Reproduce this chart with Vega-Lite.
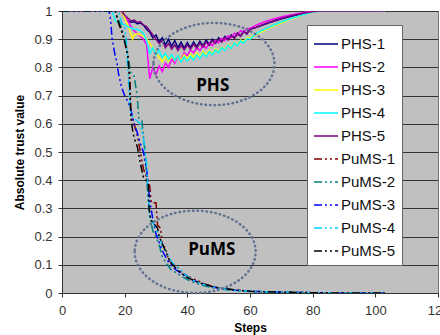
{
"$schema":"https://vega.github.io/schema/vega-lite/v6.json",
"width":376,"height":282,
"autosize":{"type":"none"},
"padding":{"left":62,"top":11,"right":2,"bottom":42},
"background":"white",
"config":{"view":{"fill":"#c0c0c0","stroke":"#777"},"font":"Liberation Sans"},
"datasets":{
"lines":[
{"s":"PHS-1","x":0,"y":1},{"s":"PHS-1","x":19,"y":1},{"s":"PHS-1","x":20,"y":0.975},{"s":"PHS-1","x":21,"y":0.965},{"s":"PHS-1","x":22,"y":0.96},{"s":"PHS-1","x":23,"y":0.962},{"s":"PHS-1","x":24,"y":0.955},{"s":"PHS-1","x":25,"y":0.957},{"s":"PHS-1","x":26,"y":0.95},{"s":"PHS-1","x":27,"y":0.935},{"s":"PHS-1","x":28,"y":0.925},{"s":"PHS-1","x":29,"y":0.905},{"s":"PHS-1","x":30,"y":0.915},{"s":"PHS-1","x":31,"y":0.89},{"s":"PHS-1","x":32,"y":0.905},{"s":"PHS-1","x":33,"y":0.88},{"s":"PHS-1","x":34,"y":0.9},{"s":"PHS-1","x":35,"y":0.875},{"s":"PHS-1","x":36,"y":0.895},{"s":"PHS-1","x":37,"y":0.87},{"s":"PHS-1","x":38,"y":0.89},{"s":"PHS-1","x":39,"y":0.868},{"s":"PHS-1","x":40,"y":0.888},{"s":"PHS-1","x":41,"y":0.87},{"s":"PHS-1","x":42,"y":0.89},{"s":"PHS-1","x":43,"y":0.873},{"s":"PHS-1","x":44,"y":0.893},{"s":"PHS-1","x":45,"y":0.877},{"s":"PHS-1","x":46,"y":0.897},{"s":"PHS-1","x":47,"y":0.882},{"s":"PHS-1","x":48,"y":0.9},{"s":"PHS-1","x":49,"y":0.888},{"s":"PHS-1","x":50,"y":0.905},{"s":"PHS-1","x":51,"y":0.893},{"s":"PHS-1","x":52,"y":0.91},{"s":"PHS-1","x":53,"y":0.9},{"s":"PHS-1","x":54,"y":0.915},{"s":"PHS-1","x":55,"y":0.905},{"s":"PHS-1","x":56,"y":0.922},{"s":"PHS-1","x":57,"y":0.912},{"s":"PHS-1","x":58,"y":0.928},{"s":"PHS-1","x":59,"y":0.92},{"s":"PHS-1","x":60,"y":0.935},{"s":"PHS-1","x":62,"y":0.942},{"s":"PHS-1","x":64,"y":0.95},{"s":"PHS-1","x":66,"y":0.958},{"s":"PHS-1","x":68,"y":0.965},{"s":"PHS-1","x":70,"y":0.972},{"s":"PHS-1","x":72,"y":0.978},{"s":"PHS-1","x":74,"y":0.983},{"s":"PHS-1","x":76,"y":0.988},{"s":"PHS-1","x":78,"y":0.993},{"s":"PHS-1","x":80,"y":0.997},{"s":"PHS-1","x":82,"y":1},{"s":"PHS-1","x":103,"y":1},
{"s":"PHS-2","x":0,"y":1},{"s":"PHS-2","x":19,"y":1},{"s":"PHS-2","x":20,"y":0.98},{"s":"PHS-2","x":21,"y":0.965},{"s":"PHS-2","x":22,"y":0.945},{"s":"PHS-2","x":23,"y":0.93},{"s":"PHS-2","x":24,"y":0.92},{"s":"PHS-2","x":25,"y":0.91},{"s":"PHS-2","x":26,"y":0.9},{"s":"PHS-2","x":27,"y":0.88},{"s":"PHS-2","x":28,"y":0.76},{"s":"PHS-2","x":29,"y":0.8},{"s":"PHS-2","x":30,"y":0.775},{"s":"PHS-2","x":31,"y":0.805},{"s":"PHS-2","x":32,"y":0.785},{"s":"PHS-2","x":33,"y":0.815},{"s":"PHS-2","x":34,"y":0.8},{"s":"PHS-2","x":35,"y":0.83},{"s":"PHS-2","x":36,"y":0.815},{"s":"PHS-2","x":37,"y":0.84},{"s":"PHS-2","x":38,"y":0.83},{"s":"PHS-2","x":39,"y":0.852},{"s":"PHS-2","x":40,"y":0.842},{"s":"PHS-2","x":41,"y":0.862},{"s":"PHS-2","x":42,"y":0.852},{"s":"PHS-2","x":43,"y":0.87},{"s":"PHS-2","x":44,"y":0.86},{"s":"PHS-2","x":45,"y":0.878},{"s":"PHS-2","x":46,"y":0.868},{"s":"PHS-2","x":47,"y":0.886},{"s":"PHS-2","x":48,"y":0.877},{"s":"PHS-2","x":49,"y":0.895},{"s":"PHS-2","x":50,"y":0.887},{"s":"PHS-2","x":51,"y":0.903},{"s":"PHS-2","x":52,"y":0.895},{"s":"PHS-2","x":53,"y":0.912},{"s":"PHS-2","x":54,"y":0.905},{"s":"PHS-2","x":55,"y":0.921},{"s":"PHS-2","x":56,"y":0.914},{"s":"PHS-2","x":57,"y":0.93},{"s":"PHS-2","x":58,"y":0.924},{"s":"PHS-2","x":59,"y":0.938},{"s":"PHS-2","x":60,"y":0.938},{"s":"PHS-2","x":62,"y":0.95},{"s":"PHS-2","x":64,"y":0.959},{"s":"PHS-2","x":66,"y":0.967},{"s":"PHS-2","x":68,"y":0.973},{"s":"PHS-2","x":70,"y":0.979},{"s":"PHS-2","x":72,"y":0.984},{"s":"PHS-2","x":74,"y":0.988},{"s":"PHS-2","x":76,"y":0.992},{"s":"PHS-2","x":78,"y":0.996},{"s":"PHS-2","x":80,"y":0.999},{"s":"PHS-2","x":82,"y":1},{"s":"PHS-2","x":103,"y":1},
{"s":"PHS-3","x":0,"y":1},{"s":"PHS-3","x":19,"y":1},{"s":"PHS-3","x":20,"y":0.975},{"s":"PHS-3","x":21,"y":0.95},{"s":"PHS-3","x":22,"y":0.92},{"s":"PHS-3","x":22.5,"y":0.9},{"s":"PHS-3","x":23,"y":0.915},{"s":"PHS-3","x":24,"y":0.92},{"s":"PHS-3","x":25,"y":0.915},{"s":"PHS-3","x":26,"y":0.91},{"s":"PHS-3","x":27,"y":0.9},{"s":"PHS-3","x":28,"y":0.885},{"s":"PHS-3","x":29,"y":0.87},{"s":"PHS-3","x":30,"y":0.85},{"s":"PHS-3","x":31,"y":0.835},{"s":"PHS-3","x":32,"y":0.82},{"s":"PHS-3","x":33,"y":0.84},{"s":"PHS-3","x":34,"y":0.822},{"s":"PHS-3","x":35,"y":0.84},{"s":"PHS-3","x":36,"y":0.824},{"s":"PHS-3","x":37,"y":0.842},{"s":"PHS-3","x":38,"y":0.827},{"s":"PHS-3","x":39,"y":0.845},{"s":"PHS-3","x":40,"y":0.83},{"s":"PHS-3","x":41,"y":0.848},{"s":"PHS-3","x":42,"y":0.834},{"s":"PHS-3","x":43,"y":0.852},{"s":"PHS-3","x":44,"y":0.838},{"s":"PHS-3","x":45,"y":0.856},{"s":"PHS-3","x":46,"y":0.843},{"s":"PHS-3","x":47,"y":0.86},{"s":"PHS-3","x":48,"y":0.848},{"s":"PHS-3","x":49,"y":0.866},{"s":"PHS-3","x":50,"y":0.855},{"s":"PHS-3","x":51,"y":0.872},{"s":"PHS-3","x":52,"y":0.862},{"s":"PHS-3","x":53,"y":0.88},{"s":"PHS-3","x":54,"y":0.87},{"s":"PHS-3","x":55,"y":0.887},{"s":"PHS-3","x":56,"y":0.88},{"s":"PHS-3","x":57,"y":0.897},{"s":"PHS-3","x":58,"y":0.89},{"s":"PHS-3","x":59,"y":0.906},{"s":"PHS-3","x":60,"y":0.905},{"s":"PHS-3","x":62,"y":0.917},{"s":"PHS-3","x":64,"y":0.928},{"s":"PHS-3","x":66,"y":0.939},{"s":"PHS-3","x":68,"y":0.949},{"s":"PHS-3","x":70,"y":0.958},{"s":"PHS-3","x":72,"y":0.967},{"s":"PHS-3","x":74,"y":0.975},{"s":"PHS-3","x":76,"y":0.983},{"s":"PHS-3","x":78,"y":0.99},{"s":"PHS-3","x":80,"y":0.996},{"s":"PHS-3","x":82,"y":1},{"s":"PHS-3","x":103,"y":1},
{"s":"PHS-4","x":0,"y":1},{"s":"PHS-4","x":16,"y":1},{"s":"PHS-4","x":17,"y":0.965},{"s":"PHS-4","x":18,"y":0.96},{"s":"PHS-4","x":19,"y":0.955},{"s":"PHS-4","x":20,"y":0.95},{"s":"PHS-4","x":21,"y":0.945},{"s":"PHS-4","x":22,"y":0.94},{"s":"PHS-4","x":23,"y":0.935},{"s":"PHS-4","x":24,"y":0.935},{"s":"PHS-4","x":25,"y":0.93},{"s":"PHS-4","x":26,"y":0.92},{"s":"PHS-4","x":27,"y":0.895},{"s":"PHS-4","x":28,"y":0.85},{"s":"PHS-4","x":29,"y":0.87},{"s":"PHS-4","x":30,"y":0.845},{"s":"PHS-4","x":31,"y":0.86},{"s":"PHS-4","x":32,"y":0.835},{"s":"PHS-4","x":33,"y":0.85},{"s":"PHS-4","x":34,"y":0.828},{"s":"PHS-4","x":35,"y":0.845},{"s":"PHS-4","x":36,"y":0.825},{"s":"PHS-4","x":37,"y":0.842},{"s":"PHS-4","x":38,"y":0.82},{"s":"PHS-4","x":39,"y":0.838},{"s":"PHS-4","x":40,"y":0.822},{"s":"PHS-4","x":41,"y":0.84},{"s":"PHS-4","x":42,"y":0.826},{"s":"PHS-4","x":43,"y":0.845},{"s":"PHS-4","x":44,"y":0.832},{"s":"PHS-4","x":45,"y":0.85},{"s":"PHS-4","x":46,"y":0.838},{"s":"PHS-4","x":47,"y":0.856},{"s":"PHS-4","x":48,"y":0.845},{"s":"PHS-4","x":49,"y":0.862},{"s":"PHS-4","x":50,"y":0.852},{"s":"PHS-4","x":51,"y":0.87},{"s":"PHS-4","x":52,"y":0.86},{"s":"PHS-4","x":53,"y":0.878},{"s":"PHS-4","x":54,"y":0.868},{"s":"PHS-4","x":55,"y":0.886},{"s":"PHS-4","x":56,"y":0.877},{"s":"PHS-4","x":57,"y":0.894},{"s":"PHS-4","x":58,"y":0.886},{"s":"PHS-4","x":59,"y":0.902},{"s":"PHS-4","x":60,"y":0.9},{"s":"PHS-4","x":62,"y":0.92},{"s":"PHS-4","x":64,"y":0.932},{"s":"PHS-4","x":66,"y":0.942},{"s":"PHS-4","x":68,"y":0.952},{"s":"PHS-4","x":70,"y":0.961},{"s":"PHS-4","x":72,"y":0.969},{"s":"PHS-4","x":74,"y":0.977},{"s":"PHS-4","x":76,"y":0.984},{"s":"PHS-4","x":78,"y":0.99},{"s":"PHS-4","x":80,"y":0.996},{"s":"PHS-4","x":82,"y":1},{"s":"PHS-4","x":103,"y":1},
{"s":"PHS-5","x":0,"y":1},{"s":"PHS-5","x":19,"y":1},{"s":"PHS-5","x":20,"y":0.985},{"s":"PHS-5","x":21,"y":0.975},{"s":"PHS-5","x":22,"y":0.965},{"s":"PHS-5","x":23,"y":0.968},{"s":"PHS-5","x":24,"y":0.96},{"s":"PHS-5","x":25,"y":0.962},{"s":"PHS-5","x":26,"y":0.95},{"s":"PHS-5","x":27,"y":0.945},{"s":"PHS-5","x":28,"y":0.93},{"s":"PHS-5","x":29,"y":0.915},{"s":"PHS-5","x":30,"y":0.9},{"s":"PHS-5","x":31,"y":0.885},{"s":"PHS-5","x":32,"y":0.895},{"s":"PHS-5","x":33,"y":0.87},{"s":"PHS-5","x":34,"y":0.885},{"s":"PHS-5","x":35,"y":0.865},{"s":"PHS-5","x":36,"y":0.88},{"s":"PHS-5","x":37,"y":0.86},{"s":"PHS-5","x":38,"y":0.878},{"s":"PHS-5","x":39,"y":0.862},{"s":"PHS-5","x":40,"y":0.88},{"s":"PHS-5","x":41,"y":0.865},{"s":"PHS-5","x":42,"y":0.882},{"s":"PHS-5","x":43,"y":0.868},{"s":"PHS-5","x":44,"y":0.886},{"s":"PHS-5","x":45,"y":0.872},{"s":"PHS-5","x":46,"y":0.89},{"s":"PHS-5","x":47,"y":0.878},{"s":"PHS-5","x":48,"y":0.895},{"s":"PHS-5","x":49,"y":0.885},{"s":"PHS-5","x":50,"y":0.9},{"s":"PHS-5","x":51,"y":0.89},{"s":"PHS-5","x":52,"y":0.907},{"s":"PHS-5","x":53,"y":0.897},{"s":"PHS-5","x":54,"y":0.913},{"s":"PHS-5","x":55,"y":0.903},{"s":"PHS-5","x":56,"y":0.92},{"s":"PHS-5","x":57,"y":0.91},{"s":"PHS-5","x":58,"y":0.927},{"s":"PHS-5","x":59,"y":0.918},{"s":"PHS-5","x":60,"y":0.935},{"s":"PHS-5","x":62,"y":0.942},{"s":"PHS-5","x":64,"y":0.952},{"s":"PHS-5","x":66,"y":0.96},{"s":"PHS-5","x":68,"y":0.967},{"s":"PHS-5","x":70,"y":0.974},{"s":"PHS-5","x":72,"y":0.98},{"s":"PHS-5","x":74,"y":0.985},{"s":"PHS-5","x":76,"y":0.99},{"s":"PHS-5","x":78,"y":0.994},{"s":"PHS-5","x":80,"y":0.998},{"s":"PHS-5","x":82,"y":1},{"s":"PHS-5","x":103,"y":1},
{"s":"PuMS-1","x":0,"y":1},{"s":"PuMS-1","x":17,"y":1},{"s":"PuMS-1","x":18,"y":0.96},{"s":"PuMS-1","x":19,"y":0.93},{"s":"PuMS-1","x":20,"y":0.9},{"s":"PuMS-1","x":21,"y":0.85},{"s":"PuMS-1","x":21.7,"y":0.75},{"s":"PuMS-1","x":22,"y":0.63},{"s":"PuMS-1","x":23,"y":0.6},{"s":"PuMS-1","x":24,"y":0.56},{"s":"PuMS-1","x":25,"y":0.5},{"s":"PuMS-1","x":26,"y":0.44},{"s":"PuMS-1","x":27,"y":0.41},{"s":"PuMS-1","x":28,"y":0.38},{"s":"PuMS-1","x":28.5,"y":0.32},{"s":"PuMS-1","x":30,"y":0.32},{"s":"PuMS-1","x":30.5,"y":0.24},{"s":"PuMS-1","x":31.5,"y":0.23},{"s":"PuMS-1","x":32,"y":0.17},{"s":"PuMS-1","x":33,"y":0.16},{"s":"PuMS-1","x":34,"y":0.12},{"s":"PuMS-1","x":35,"y":0.105},{"s":"PuMS-1","x":37,"y":0.09},{"s":"PuMS-1","x":38,"y":0.075},{"s":"PuMS-1","x":40,"y":0.06},{"s":"PuMS-1","x":42,"y":0.05},{"s":"PuMS-1","x":44,"y":0.04},{"s":"PuMS-1","x":46,"y":0.03},{"s":"PuMS-1","x":48,"y":0.024},{"s":"PuMS-1","x":50,"y":0.018},{"s":"PuMS-1","x":55,"y":0.011},{"s":"PuMS-1","x":60,"y":0.006},{"s":"PuMS-1","x":70,"y":0.003},{"s":"PuMS-1","x":80,"y":0.001},{"s":"PuMS-1","x":90,"y":0},{"s":"PuMS-1","x":103,"y":0},
{"s":"PuMS-2","x":0,"y":1},{"s":"PuMS-2","x":17,"y":1},{"s":"PuMS-2","x":18,"y":0.97},{"s":"PuMS-2","x":19,"y":0.94},{"s":"PuMS-2","x":20,"y":0.9},{"s":"PuMS-2","x":21,"y":0.84},{"s":"PuMS-2","x":22,"y":0.78},{"s":"PuMS-2","x":23,"y":0.77},{"s":"PuMS-2","x":24,"y":0.7},{"s":"PuMS-2","x":24.5,"y":0.62},{"s":"PuMS-2","x":25.5,"y":0.61},{"s":"PuMS-2","x":26.5,"y":0.5},{"s":"PuMS-2","x":27.5,"y":0.33},{"s":"PuMS-2","x":28,"y":0.27},{"s":"PuMS-2","x":29,"y":0.22},{"s":"PuMS-2","x":30,"y":0.2},{"s":"PuMS-2","x":31,"y":0.17},{"s":"PuMS-2","x":32,"y":0.13},{"s":"PuMS-2","x":33,"y":0.11},{"s":"PuMS-2","x":34,"y":0.095},{"s":"PuMS-2","x":35,"y":0.08},{"s":"PuMS-2","x":36,"y":0.075},{"s":"PuMS-2","x":38,"y":0.06},{"s":"PuMS-2","x":40,"y":0.048},{"s":"PuMS-2","x":42,"y":0.038},{"s":"PuMS-2","x":44,"y":0.03},{"s":"PuMS-2","x":46,"y":0.024},{"s":"PuMS-2","x":48,"y":0.019},{"s":"PuMS-2","x":50,"y":0.015},{"s":"PuMS-2","x":55,"y":0.009},{"s":"PuMS-2","x":60,"y":0.005},{"s":"PuMS-2","x":70,"y":0.002},{"s":"PuMS-2","x":80,"y":0.001},{"s":"PuMS-2","x":90,"y":0},{"s":"PuMS-2","x":103,"y":0},
{"s":"PuMS-3","x":0,"y":1},{"s":"PuMS-3","x":15,"y":1},{"s":"PuMS-3","x":15.5,"y":0.97},{"s":"PuMS-3","x":16,"y":0.9},{"s":"PuMS-3","x":16.5,"y":0.87},{"s":"PuMS-3","x":17,"y":0.84},{"s":"PuMS-3","x":17.5,"y":0.82},{"s":"PuMS-3","x":18,"y":0.78},{"s":"PuMS-3","x":19,"y":0.73},{"s":"PuMS-3","x":20,"y":0.7},{"s":"PuMS-3","x":21,"y":0.68},{"s":"PuMS-3","x":22,"y":0.65},{"s":"PuMS-3","x":23,"y":0.6},{"s":"PuMS-3","x":24,"y":0.57},{"s":"PuMS-3","x":25,"y":0.53},{"s":"PuMS-3","x":26,"y":0.5},{"s":"PuMS-3","x":27,"y":0.44},{"s":"PuMS-3","x":28,"y":0.33},{"s":"PuMS-3","x":29,"y":0.26},{"s":"PuMS-3","x":30,"y":0.21},{"s":"PuMS-3","x":31,"y":0.18},{"s":"PuMS-3","x":32,"y":0.15},{"s":"PuMS-3","x":33,"y":0.13},{"s":"PuMS-3","x":34,"y":0.11},{"s":"PuMS-3","x":35,"y":0.095},{"s":"PuMS-3","x":36,"y":0.085},{"s":"PuMS-3","x":38,"y":0.07},{"s":"PuMS-3","x":40,"y":0.055},{"s":"PuMS-3","x":42,"y":0.045},{"s":"PuMS-3","x":44,"y":0.035},{"s":"PuMS-3","x":46,"y":0.028},{"s":"PuMS-3","x":48,"y":0.022},{"s":"PuMS-3","x":50,"y":0.017},{"s":"PuMS-3","x":55,"y":0.01},{"s":"PuMS-3","x":60,"y":0.006},{"s":"PuMS-3","x":70,"y":0.003},{"s":"PuMS-3","x":80,"y":0.001},{"s":"PuMS-3","x":90,"y":0},{"s":"PuMS-3","x":103,"y":0},
{"s":"PuMS-4","x":0,"y":1},{"s":"PuMS-4","x":18,"y":1},{"s":"PuMS-4","x":19,"y":0.96},{"s":"PuMS-4","x":20,"y":0.94},{"s":"PuMS-4","x":20.5,"y":0.9},{"s":"PuMS-4","x":21,"y":0.8},{"s":"PuMS-4","x":21.5,"y":0.7},{"s":"PuMS-4","x":22,"y":0.63},{"s":"PuMS-4","x":23,"y":0.62},{"s":"PuMS-4","x":24,"y":0.61},{"s":"PuMS-4","x":25,"y":0.6},{"s":"PuMS-4","x":26,"y":0.55},{"s":"PuMS-4","x":27,"y":0.46},{"s":"PuMS-4","x":27.5,"y":0.35},{"s":"PuMS-4","x":28,"y":0.27},{"s":"PuMS-4","x":29,"y":0.25},{"s":"PuMS-4","x":30,"y":0.23},{"s":"PuMS-4","x":31,"y":0.2},{"s":"PuMS-4","x":32,"y":0.17},{"s":"PuMS-4","x":33,"y":0.15},{"s":"PuMS-4","x":34,"y":0.13},{"s":"PuMS-4","x":35,"y":0.11},{"s":"PuMS-4","x":36,"y":0.1},{"s":"PuMS-4","x":38,"y":0.08},{"s":"PuMS-4","x":40,"y":0.06},{"s":"PuMS-4","x":42,"y":0.045},{"s":"PuMS-4","x":44,"y":0.035},{"s":"PuMS-4","x":46,"y":0.028},{"s":"PuMS-4","x":48,"y":0.022},{"s":"PuMS-4","x":50,"y":0.017},{"s":"PuMS-4","x":55,"y":0.01},{"s":"PuMS-4","x":60,"y":0.006},{"s":"PuMS-4","x":70,"y":0.003},{"s":"PuMS-4","x":80,"y":0.001},{"s":"PuMS-4","x":90,"y":0},{"s":"PuMS-4","x":103,"y":0},
{"s":"PuMS-5","x":0,"y":1},{"s":"PuMS-5","x":17,"y":1},{"s":"PuMS-5","x":18,"y":0.96},{"s":"PuMS-5","x":19,"y":0.93},{"s":"PuMS-5","x":20,"y":0.89},{"s":"PuMS-5","x":21,"y":0.84},{"s":"PuMS-5","x":21.5,"y":0.77},{"s":"PuMS-5","x":22,"y":0.62},{"s":"PuMS-5","x":22.5,"y":0.58},{"s":"PuMS-5","x":23,"y":0.55},{"s":"PuMS-5","x":24,"y":0.52},{"s":"PuMS-5","x":25,"y":0.46},{"s":"PuMS-5","x":26,"y":0.41},{"s":"PuMS-5","x":27.5,"y":0.39},{"s":"PuMS-5","x":27.8,"y":0.3},{"s":"PuMS-5","x":28.3,"y":0.26},{"s":"PuMS-5","x":30.5,"y":0.23},{"s":"PuMS-5","x":31,"y":0.2},{"s":"PuMS-5","x":33,"y":0.15},{"s":"PuMS-5","x":34.5,"y":0.11},{"s":"PuMS-5","x":37,"y":0.08},{"s":"PuMS-5","x":40,"y":0.055},{"s":"PuMS-5","x":42,"y":0.045},{"s":"PuMS-5","x":44,"y":0.036},{"s":"PuMS-5","x":46,"y":0.029},{"s":"PuMS-5","x":48,"y":0.023},{"s":"PuMS-5","x":50,"y":0.018},{"s":"PuMS-5","x":55,"y":0.011},{"s":"PuMS-5","x":60,"y":0.006},{"s":"PuMS-5","x":70,"y":0.003},{"s":"PuMS-5","x":80,"y":0.001},{"s":"PuMS-5","x":90,"y":0},{"s":"PuMS-5","x":103,"y":0}
],
"ellipses":[{"x":48.5,"y":0.812},{"x":42.5,"y":0.146}],
"labels":[{"x":48.1,"y":0.734,"t":"PHS"},{"x":47.8,"y":0.152,"t":"PuMS"}]
},
"encoding":{
"x":{"field":"x","type":"quantitative","scale":{"domain":[0,120],"nice":false},
"axis":{"values":[0,20,40,60,80,100,120],"grid":false,"title":"Steps","titleFont":"Liberation Sans","titleFontSize":12,"titleFontWeight":"bold","titleColor":"#000","titlePadding":5,"labelFontSize":13,"labelColor":"#333","labelPadding":7,"tickSize":4,"tickColor":"#333","domainColor":"#333","labelFlush":false,"labelOverlap":false}},
"y":{"field":"y","type":"quantitative","scale":{"domain":[0,1],"nice":false},
"axis":{"values":[0,0.1,0.2,0.3,0.4,0.5,0.6,0.7,0.8,0.9,1],"format":"~g","grid":true,"gridColor":"#333","gridWidth":1,"title":"Absolute trust value","titleFont":"Liberation Sans","titleFontSize":12,"titleFontWeight":"bold","titleColor":"#000","titlePadding":7,"labelFontSize":13,"labelColor":"#333","labelPadding":6,"tickSize":4,"tickColor":"#333","domainColor":"#333","labelOverlap":false,"labelFlush":false}}
},
"layer":[
{"data":{"name":"lines"},
"mark":{"type":"line","strokeWidth":1.5,"clip":true},
"encoding":{
"color":{"field":"s","type":"nominal","scale":{"domain":["PHS-1","PHS-2","PHS-3","PHS-4","PHS-5","PuMS-1","PuMS-2","PuMS-3","PuMS-4","PuMS-5"],"range":["#000080","#ff00ff","#ffff00","#00ffff","#800080","#800000","#008080","#0000ff","#00ccff","#000000"]},
"legend":{"title":null,"orient":"none","legendX":245,"legendY":14,"fillColor":"white","strokeColor":"#666","padding":6,"labelFontSize":15,"labelFont":"Liberation Sans","labelColor":"#111","symbolType":"stroke","symbolSize":576,"symbolStrokeWidth":1.5,"labelOffset":2,"rowPadding":2}},
"strokeDash":{"field":"s","type":"nominal","scale":{"domain":["PHS-1","PHS-2","PHS-3","PHS-4","PHS-5","PuMS-1","PuMS-2","PuMS-3","PuMS-4","PuMS-5"],"range":[[1,0],[1,0],[1,0],[1,0],[1,0],[8,3,2,3,2,3],[8,3,2,3,2,3],[8,3,2,3,2,3],[8,3,2,3,2,3],[8,3,2,3,2,3]]},
"legend":{"title":null,"orient":"none","legendX":245,"legendY":14,"fillColor":"white","strokeColor":"#666","padding":6,"labelFontSize":15,"labelFont":"Liberation Sans","labelColor":"#111","symbolType":"stroke","symbolSize":576,"symbolStrokeWidth":1.5,"labelOffset":2,"rowPadding":2}}
}},
{"data":{"name":"ellipses"},
"mark":{"type":"point","shape":"M-1,0A1,0.68 0 1,0 1,0A1,0.68 0 1,0 -1,0Z","size":14641,"filled":false,"stroke":"#5f7090","strokeWidth":2.5,"strokeDash":[0.5,4],"strokeCap":"round","opacity":1}},
{"data":{"name":"labels"},
"mark":{"type":"text","font":"Open Sans","fontWeight":"bold","fontSize":17,"color":"#000","align":"center","baseline":"middle"},
"encoding":{"text":{"field":"t","type":"nominal"}}}
]
}
